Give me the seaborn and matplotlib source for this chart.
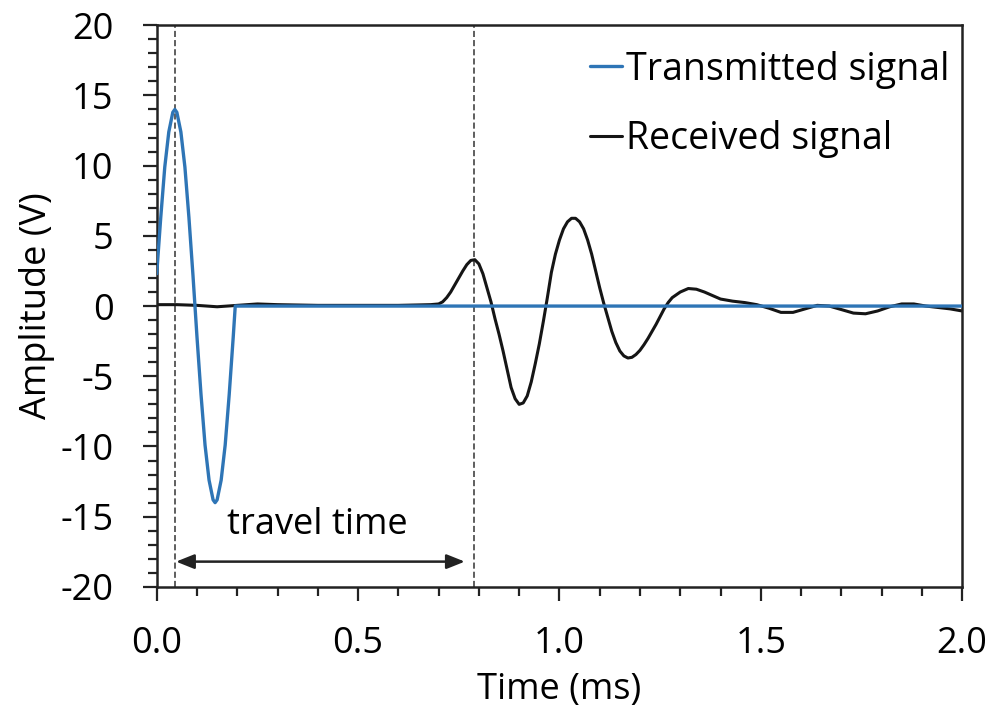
import matplotlib
matplotlib.use("Agg")
import matplotlib.pyplot as plt
from matplotlib.ticker import MultipleLocator, FormatStrFormatter
import pandas as pd
import seaborn as sns

# Transmitted pulse (ms, V)
t_tx = [0.0, 0.01, 0.02, 0.03, 0.04, 0.045, 0.05, 0.06, 0.07, 0.08, 0.09, 0.095,
        0.10, 0.11, 0.12, 0.13, 0.14, 0.145, 0.15, 0.16, 0.17, 0.18, 0.19, 0.195, 2.0]
v_tx = [2.3, 6.3, 9.9, 12.4, 13.8, 14.0, 13.8, 12.4, 9.9, 6.3, 2.2, 0.0,
        -2.2, -6.3, -9.9, -12.4, -13.8, -14.0, -13.8, -12.4, -9.9, -6.3, -2.2, 0.0, 0.0]

# Received signal
t_rx = [0.0, 0.05, 0.10, 0.15, 0.20, 0.25, 0.30, 0.40, 0.50, 0.60, 0.65, 0.68,
        0.70, 0.71, 0.72, 0.73, 0.74, 0.75, 0.76, 0.77, 0.78, 0.79, 0.80, 0.81,
        0.82, 0.83, 0.84, 0.85, 0.86, 0.87, 0.88, 0.89, 0.90, 0.91, 0.92, 0.93,
        0.94, 0.95, 0.96, 0.97, 0.98, 0.99, 1.00, 1.01, 1.02, 1.03, 1.04, 1.05,
        1.06, 1.07, 1.08, 1.09, 1.10, 1.11, 1.12, 1.13, 1.14, 1.15, 1.16, 1.17,
        1.18, 1.19, 1.20, 1.21, 1.22, 1.23, 1.24, 1.25, 1.26, 1.27, 1.28, 1.30,
        1.32, 1.34, 1.36, 1.38, 1.40, 1.43, 1.46, 1.49, 1.52, 1.55, 1.58, 1.61,
        1.64, 1.67, 1.70, 1.73, 1.76, 1.79, 1.82, 1.85, 1.88, 1.91, 1.94, 1.97, 2.0]
v_rx = [0.1, 0.1, 0.05, -0.05, 0.05, 0.15, 0.1, 0.05, 0.05, 0.05, 0.08, 0.1,
        0.15, 0.3, 0.6, 1.0, 1.5, 2.0, 2.5, 2.95, 3.25, 3.3, 3.0, 2.3,
        1.3, 0.3, -0.9, -2.0, -3.2, -4.5, -5.8, -6.6, -7.0, -6.9, -6.4, -5.4,
        -4.1, -2.7, -1.1, 0.6, 2.4, 3.7, 4.7, 5.5, 6.0, 6.25, 6.25, 6.0,
        5.5, 4.7, 3.7, 2.5, 1.3, 0.2, -0.8, -1.8, -2.6, -3.2, -3.55, -3.7,
        -3.65, -3.45, -3.15, -2.75, -2.3, -1.8, -1.3, -0.75, -0.2, 0.25, 0.6, 1.0,
        1.25, 1.2, 1.0, 0.75, 0.5, 0.35, 0.25, 0.1, -0.15, -0.45, -0.45, -0.2,
        0.05, 0.0, -0.25, -0.5, -0.55, -0.35, -0.05, 0.15, 0.15, 0.0, -0.1, -0.2, -0.35]

t_start = 0.045   # first arrival markers
t_arrival = 0.787

sns.set_theme(style="ticks")
plt.rcParams["font.family"] = ["Open Sans", "DejaVu Sans"]
plt.rcParams["axes.unicode_minus"] = False
for key in ("text.color", "axes.labelcolor", "xtick.color", "ytick.color"):
    plt.rcParams[key] = "black"

df_tx = pd.DataFrame({"t": t_tx, "v": v_tx})
df_rx = pd.DataFrame({"t": t_rx, "v": v_rx})

fig = plt.figure(figsize=(9.95, 7.21), dpi=100)
ax = fig.add_axes([0.1575, 0.186, 0.8095, 0.779])

sns.lineplot(data=df_tx, x="t", y="v", ax=ax, color="#2e75b6", lw=2.4,
             sort=False, estimator=None, label="Transmitted signal", zorder=3)
sns.lineplot(data=df_rx, x="t", y="v", ax=ax, color="#151515", lw=2.2,
             sort=False, estimator=None, label="Received signal", zorder=2)

for tv in (t_start, t_arrival):
    ax.axvline(tv, color="#333333", lw=1.1, ls=(0, (4, 2)), zorder=1)

ax.annotate("", xy=(0.048, -18.2), xytext=(0.765, -18.2),
            arrowprops=dict(arrowstyle="<|-|>,head_length=0.55,head_width=0.22",
                            color="#222222", lw=1.8, mutation_scale=20,
                            shrinkA=0, shrinkB=0))
ax.text(0.398, -15.6, "travel time", ha="center", va="center", fontsize=26)

ax.set_xlim(0, 2.0)
ax.set_ylim(-20, 20)
ax.xaxis.set_major_locator(MultipleLocator(0.5))
ax.xaxis.set_minor_locator(MultipleLocator(0.1))
ax.xaxis.set_major_formatter(FormatStrFormatter("%.1f"))
ax.yaxis.set_major_locator(MultipleLocator(5))
ax.yaxis.set_minor_locator(MultipleLocator(1))

ax.tick_params(which="major", direction="out", length=10, width=1.6, labelsize=26, color="#222222")
ax.tick_params(which="minor", direction="out", length=6.5, width=1.6, color="#222222")
ax.tick_params(axis="x", which="major", pad=18)
ax.tick_params(axis="y", which="major", pad=21)

for sp in ax.spines.values():
    sp.set_visible(True)
    sp.set_linewidth(1.8)
    sp.set_color("#222222")

ax.set_xlabel("Time (ms)", fontsize=26, labelpad=7)
ax.set_ylabel("Amplitude (V)", fontsize=26, labelpad=4)

ax.legend(loc="upper left", bbox_to_anchor=(0.538, 0.955), frameon=False,
          fontsize=27, handlelength=0.85, handletextpad=0.1, labelspacing=0.85,
          borderaxespad=0, borderpad=0)

fig.savefig("out.png", dpi=100)
